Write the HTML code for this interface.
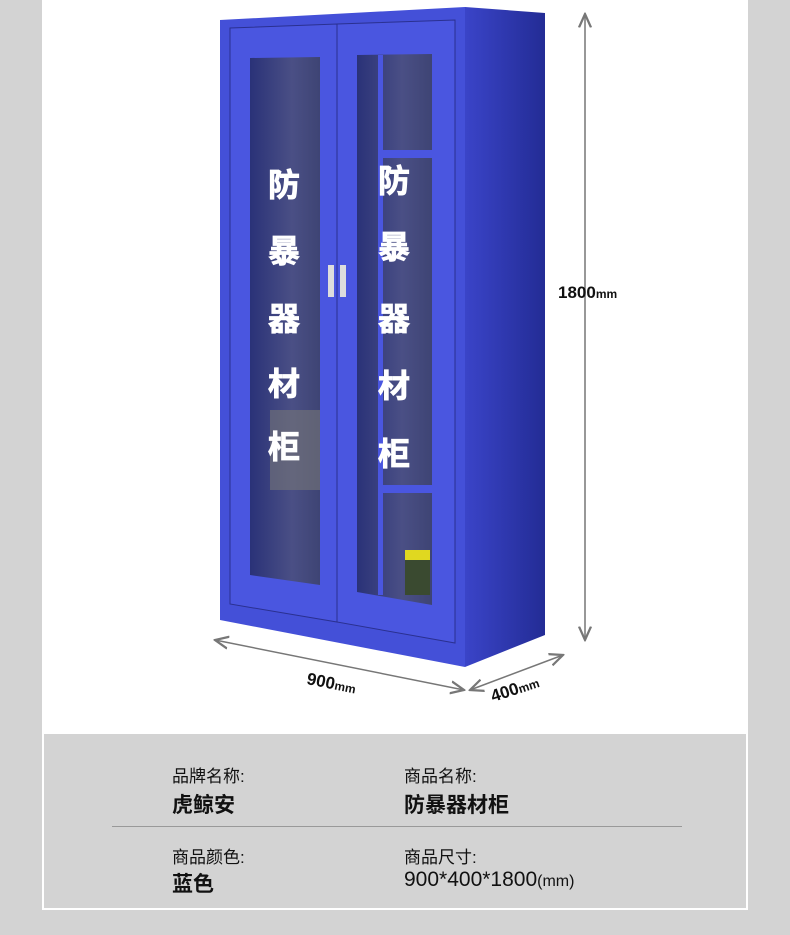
<!DOCTYPE html>
<html><head><meta charset="utf-8"><style>
body{margin:0;width:790px;height:935px;background:#d3d3d3;position:relative;overflow:hidden;font-family:"Liberation Sans","Noto Sans CJK SC",sans-serif}
.panel{position:absolute;left:42px;top:0;width:706px;height:734px;background:#fff}
.box{position:absolute;left:42px;top:734px;width:702px;height:174px;background:#d3d3d3;border:2px solid #fff;border-top:none}
.t{position:absolute;color:#111}
.s{font-size:17px}
.b{font-size:21px;font-weight:bold}
.line{position:absolute;left:112px;top:826px;width:570px;height:1px;background:#999}
</style></head><body>
<div class="panel"></div>
<svg width="790" height="735" style="position:absolute;left:0;top:0">
<defs>
<linearGradient id="side" x1="0" x2="1"><stop offset="0" stop-color="#3a44c8"/><stop offset="1" stop-color="#232c95"/></linearGradient>
<linearGradient id="glass" x1="0" x2="1"><stop offset="0" stop-color="#2a3278"/><stop offset=".6" stop-color="#4a4f85"/><stop offset="1" stop-color="#3e4474"/></linearGradient>
<marker id="ar" markerWidth="10" markerHeight="10" refX="9" refY="5" orient="auto-start-reverse"><path d="M0,1 L9,5 L0,9" fill="none" stroke="#777" stroke-width="1.5"/></marker>
</defs>
<polygon points="465,7 545,13 545,635 465,667" fill="url(#side)"/>
<polygon points="220,20 465,7 465,667 220,620" fill="#4450d8"/>
<polygon points="230,28 337,24 337,622 230,604" fill="#4a56e0" stroke="#2a3090" stroke-width="1"/>
<polygon points="337,24 455,20 455,643 337,622" fill="#4a56e0" stroke="#2a3090" stroke-width="1"/>
<polygon points="250,58 320,57 320,585 250,575" fill="url(#glass)"/>
<polygon points="357,55 432,54 432,605 357,592" fill="url(#glass)"/>
<rect x="378" y="55" width="5" height="540" fill="#4a56e0"/>
<rect x="383" y="150" width="49" height="8" fill="#4a56e0"/>
<rect x="383" y="485" width="49" height="8" fill="#4a56e0"/>
<rect x="405" y="550" width="25" height="45" fill="#3a4a30"/><rect x="405" y="550" width="25" height="10" fill="#e0d820"/>
<rect x="328" y="265" width="6" height="32" fill="#ddd"/><rect x="340" y="265" width="6" height="32" fill="#ddd"/>
<rect x="270" y="410" width="50" height="80" fill="#777" opacity=".6"/>
<g fill="#fff" font-weight="bold" font-size="32" font-family="'Noto Sans CJK SC',sans-serif" stroke="#fff" stroke-width="0.8">
<text x="268" y="196">防</text><text x="268" y="262">暴</text><text x="268" y="330">器</text><text x="268" y="395">材</text><text x="268" y="458">柜</text>
<text x="378" y="192">防</text><text x="378" y="258">暴</text><text x="378" y="330">器</text><text x="378" y="397">材</text><text x="378" y="465">柜</text>
</g>
<line x1="585" y1="14" x2="585" y2="640" stroke="#777" stroke-width="1.5" marker-end="url(#ar)" marker-start="url(#ar)"/>
<line x1="215" y1="640" x2="464" y2="690" stroke="#777" stroke-width="1.5" marker-end="url(#ar)" marker-start="url(#ar)"/>
<line x1="470" y1="690" x2="563" y2="655" stroke="#777" stroke-width="1.5" marker-end="url(#ar)" marker-start="url(#ar)"/>
<text x="558" y="298" font-size="17" font-weight="bold" fill="#111">1800<tspan font-size="12">mm</tspan></text>
<text x="306" y="684" font-size="17" font-weight="bold" fill="#111" transform="rotate(11 306 684)">900<tspan font-size="12">mm</tspan></text>
<text x="493" y="702" font-size="17" font-weight="bold" fill="#111" transform="rotate(-18 493 702)">400<tspan font-size="12">mm</tspan></text>
</svg>
<div class="box"></div>
<div class="t s" style="left:172px;top:762px">品牌名称:</div>
<div class="t b" style="left:172px;top:789px">虎鲸安</div>
<div class="t s" style="left:404px;top:762px">商品名称:</div>
<div class="t b" style="left:404px;top:789px">防暴器材柜</div>
<div class="line"></div>
<div class="t s" style="left:172px;top:843px">商品颜色:</div>
<div class="t b" style="left:172px;top:868px">蓝色</div>
<div class="t s" style="left:404px;top:843px">商品尺寸:</div>
<div class="t" style="left:404px;top:868px;font-size:21px">900*400*1800<span style="font-size:16px">(mm)</span></div>
</body></html>
